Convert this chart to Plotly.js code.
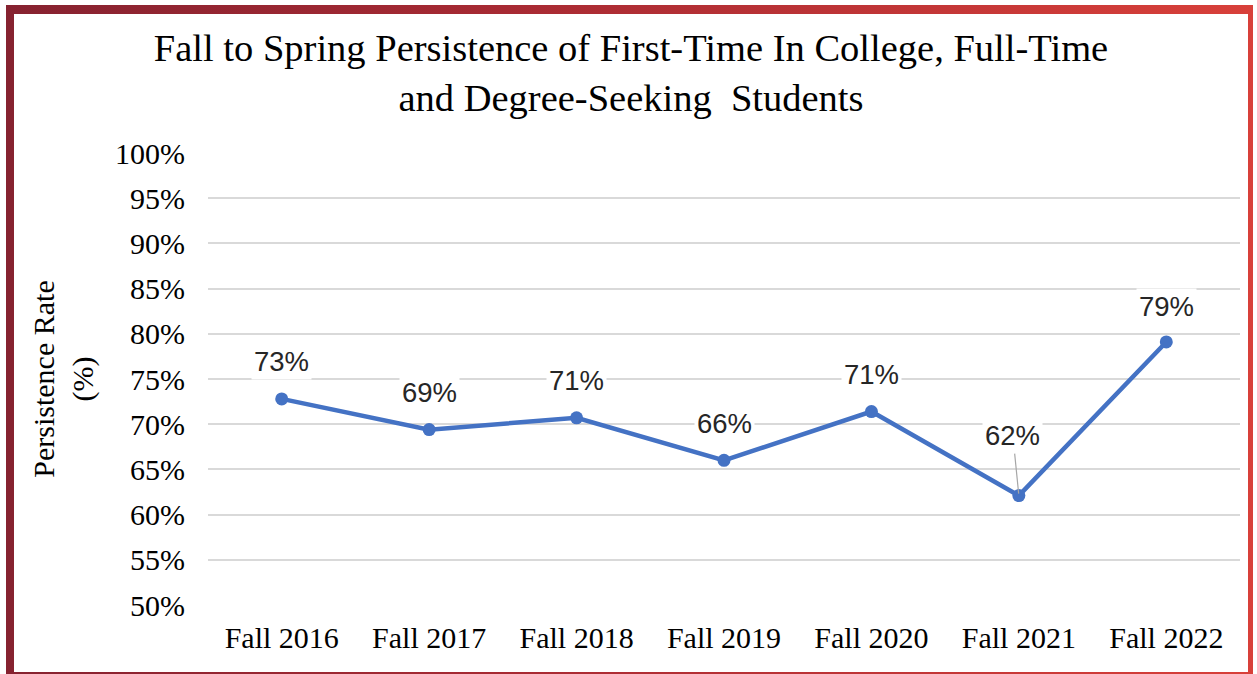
<!DOCTYPE html>
<html>
<head>
<meta charset="utf-8">
<script src="https://cdn.plot.ly/plotly-3.0.1.min.js"></script>
<style>
  html, body { margin: 0; padding: 0; background: #fff; }
  #wrap { position: relative; width: 1257px; height: 674px; overflow: hidden; background: #fff; }
  #frame { position: absolute; left: 6px; top: 5px; width: 1247px; height: 672px;
           background: linear-gradient(to right, #862230, #a72a33 40%, #d8403a); }
  #inner { position: absolute; left: 14px; top: 14px; width: 1234px; height: 658px; background: #fff; }
  #chart { position: absolute; left: 0; top: 0; width: 1257px; height: 674px; }
</style>
</head>
<body>
<div id="wrap">
  <div id="frame"></div>
  <div id="inner"></div>
  <div id="chart"></div>
</div>
<script>
// ---- data ----
const categories = ["Fall 2016", "Fall 2017", "Fall 2018", "Fall 2019", "Fall 2020", "Fall 2021", "Fall 2022"];
const persistence = [72.8, 69.4, 70.7, 66.0, 71.4, 62.1, 79.1];
const labels = ["73%", "69%", "71%", "66%", "71%", "62%", "79%"];
const yTickVals = [50, 55, 60, 65, 70, 75, 80, 85, 90, 95, 100];
const yTickText = ["50%", "55%", "60%", "65%", "70%", "75%", "80%", "85%", "90%", "95%", "100%"];

const serif = "Liberation Serif, Times New Roman, serif";
const sans = "Liberation Sans, Arial, sans-serif";

const trace = {
  type: "scatter",
  mode: "lines+markers",
  x: categories,
  y: persistence,
  line: { color: "#4472C4", width: 4.5 },
  marker: { color: "#4472C4", size: 13 },
  hoverinfo: "skip",
  cliponaxis: false
};

// label placement (style only)
const annotations = categories.map((c, i) => {
  const leader = (i === 5);
  return {
    x: c, y: persistence[i], xref: "x", yref: "y",
    text: labels[i],
    font: { family: sans, size: 27.5, color: "#262626" },
    bgcolor: "#ffffff",
    borderpad: 2,
    showarrow: leader,
    arrowhead: 0, arrowwidth: 1.2, arrowcolor: "#a6a6a6",
    ax: leader ? -6 : 0, ay: leader ? -60 : 0,
    yshift: leader ? 0 : (i === 6 ? 35 : 37),
    standoff: 2
  };
});

const layout = {
  width: 1257, height: 674,
  paper_bgcolor: "rgba(0,0,0,0)",
  plot_bgcolor: "rgba(0,0,0,0)",
  margin: { l: 208, r: 17, t: 153, b: 69 },
  showlegend: false,
  title: {
    text: "Fall to Spring Persistence of First-Time In College, Full-Time<br>and Degree-Seeking  Students",
    font: { family: serif, size: 38.5, color: "#000" },
    x: 0.502, xanchor: "center",
    yref: "container", y: 1 - 61 / 674, yanchor: "top"
  },
  xaxis: {
    type: "category",
    range: [-0.5, 6.5],
    showgrid: false, zeroline: false, showline: false,
    ticks: "", ticklabelstandoff: 12,
    tickfont: { family: serif, size: 30, color: "#000" }
  },
  yaxis: {
    range: [50, 100],
    tickvals: yTickVals, ticktext: yTickText,
    showgrid: true, gridcolor: "#d9d9d9", gridwidth: 2,
    zeroline: false, showline: false,
    ticks: "", ticklabelstandoff: 22,
    tickfont: { family: serif, size: 30, color: "#000" },
    title: {
      text: "Persistence Rate<br>(%)",
      font: { family: serif, size: 30, color: "#000" },
      standoff: 12
    }
  },
  annotations: annotations
};

Plotly.newPlot("chart", [trace], layout, { displayModeBar: false, staticPlot: true });
</script>
</body>
</html>
